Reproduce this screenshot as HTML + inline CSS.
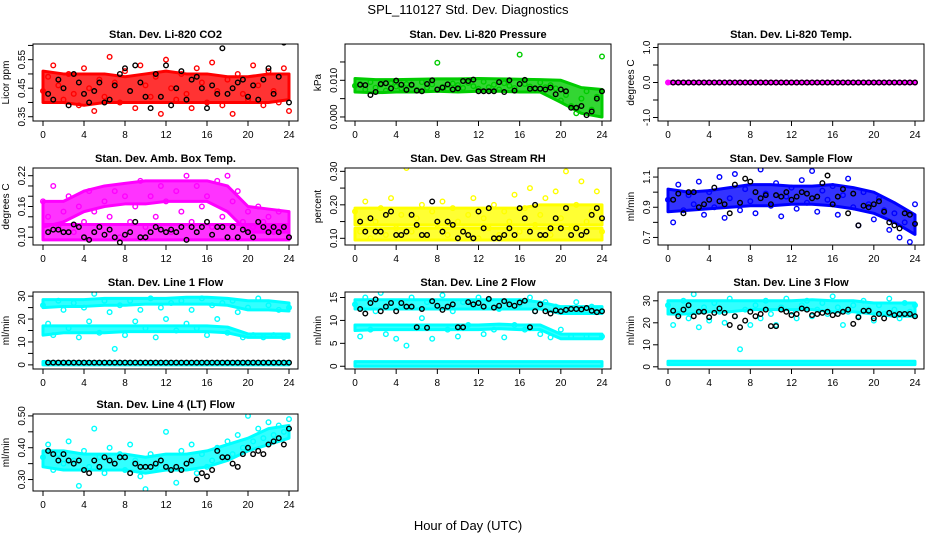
<!DOCTYPE html>
<html><head><meta charset="utf-8"><style>
html,body{margin:0;padding:0;background:#fff}
svg{display:block;font-family:"Liberation Sans",sans-serif}
</style></head><body>
<svg id="chart" width="936" height="540" viewBox="0 0 936 540">
<text x="468" y="14" text-anchor="middle" font-size="13">SPL_110127  Std. Dev. Diagnostics</text>
<text x="468" y="530" text-anchor="middle" font-size="13">Hour of Day (UTC)</text>
</svg>
<script>
// ---- data ----
const bandHours=[0,2,4,6,8,10,12,14,16,18,20,22,24];
const ptHours=[0,0.5,1,1.5,2,2.5,3,3.5,4,4.5,5,5.5,6,6.5,7,7.5,8,8.5,9,9.5,10,10.5,11,11.5,12,12.5,13,13.5,14,14.5,15,15.5,16,16.5,17,17.5,18,18.5,19,19.5,20,20.5,21,21.5,22,22.5,23,23.5,24];
const blkHours=[0.5,1,1.5,2,2.5,3,3.5,4,4.5,5,5.5,6,6.5,7,7.5,8,8.5,9,9.5,10,10.5,11,11.5,12,12.5,13,13.5,14,14.5,15,15.5,16,16.5,17,17.5,18,18.5,19,19.5,20,20.5,21,21.5,22,22.5,23,23.5,24];
const xTicks=[0,4,8,12,16,20,24];

const co2Lo=[.40,.40,.39,.40,.40,.40,.40,.40,.40,.40,.40,.40,.41];
const co2Hi=[.51,.50,.50,.50,.49,.50,.51,.50,.50,.49,.49,.50,.50];
const co2Pts=[.44,.49,.53,.46,.41,.50,.43,.39,.52,.45,.37,.48,.42,.56,.47,.40,.51,.44,.38,.53,.46,.42,.49,.36,.55,.45,.41,.50,.43,.38,.52,.47,.40,.54,.44,.39,.48,.36,.50,.43,.41,.53,.46,.39,.51,.44,.40,.52,.37];
const co2Blk=[.43,.41,.48,.45,.39,.50,.47,.43,.40,.44,.47,.40,.41,.46,.50,.52,.44,.53,.47,.42,.38,.50,.42,.53,.39,.45,.51,.41,.48,.49,.45,.38,.46,.43,.59,.43,.45,.47,.48,.42,.46,.41,.48,.52,.43,.49,.61,.40];

const presLo=[.0068,.0066,.0068,.0068,.0070,.0068,.0070,.0070,.0068,.0068,.0040,.0010,.0000];
const presHi=[.0105,.0102,.0102,.0103,.0104,.0104,.0105,.0104,.0103,.0102,.0100,.0080,.0075];
const presPts=[.0085,.009,.0075,.0095,.008,.0088,.0072,.0092,.0083,.0078,.009,.0086,.0074,.0095,.008,.0089,.0148,.0082,.0076,.0091,.0087,.0079,.0093,.0084,.0077,.0096,.0081,.0088,.0075,.0092,.0085,.0079,.0170,.0090,.0083,.0076,.0094,.0081,.0087,.0078,.0045,.0060,.0030,.0010,.0050,.0070,.0020,.0055,.0165];
const presBlk=[.0088,.0087,.0060,.0068,.0090,.0092,.0078,.0099,.0088,.0074,.0088,.0072,.0070,.0090,.0100,.0075,.0080,.0089,.0075,.0078,.0098,.0098,.0102,.0070,.0070,.0070,.0070,.0095,.0068,.0100,.0072,.0090,.0101,.0077,.0078,.0077,.0075,.0080,.0062,.0075,.0070,.0025,.0025,.0030,.0005,.0015,.0050,.0070];

const tempLo=[-0.03,-0.03,-0.03,-0.03,-0.03,-0.03,-0.03,-0.03,-0.03,-0.03,-0.03,-0.03,-0.03];
const tempHi=[0.03,0.03,0.03,0.03,0.03,0.03,0.03,0.03,0.03,0.03,0.03,0.03,0.03];
const tempPts=[0,0,0,0,0,0,0,0,0,0,0,0,0,0,0,0,0,0,0,0,0,0,0,0,0,0,0,0,0,0,0,0,0,0,0,0,0,0,0,0,0,0,0,0,0,0,0,0,0];
const tempBlk=[0,0,0,0,0,0,0,0,0,0,0,0,0,0,0,0,0,0,0,0,0,0,0,0,0,0,0,0,0,0,0,0,0,0,0,0,0,0,0,0,0,0,0,0,0,0,0,0];

const ambLo1=[.095,.095,.095,.095,.095,.095,.095,.095,.095,.095,.095,.095,.095];
const ambHi1=[.125,.125,.125,.125,.125,.125,.125,.125,.125,.125,.125,.125,.125];
const ambLo2=[.12,.13,.15,.16,.165,.165,.17,.17,.17,.15,.11,.11,.11];
const ambHi2=[.17,.17,.19,.20,.205,.21,.21,.21,.21,.20,.16,.155,.15];
const ambPts=[.17,.14,.20,.12,.15,.18,.11,.16,.13,.19,.15,.12,.17,.14,.19,.10,.18,.13,.16,.21,.12,.18,.14,.20,.17,.11,.19,.15,.22,.13,.20,.16,.18,.12,.21,.14,.22,.17,.19,.13,.15,.12,.16,.13,.14,.11,.15,.12,.10];
const ambBlk=[.11,.115,.115,.11,.11,.125,.12,.10,.095,.11,.12,.105,.115,.10,.09,.105,.11,.13,.10,.10,.11,.12,.115,.11,.115,.11,.12,.095,.12,.11,.12,.13,.105,.12,.12,.10,.12,.10,.115,.11,.10,.13,.12,.11,.12,.11,.12,.10];

const rhLo1=[.095,.095,.095,.095,.095,.095,.095,.095,.095,.095,.095,.095,.095];
const rhHi1=[.13,.13,.13,.13,.13,.13,.13,.13,.13,.13,.13,.13,.13];
const rhLo2=[.14,.14,.14,.14,.14,.14,.14,.14,.14,.14,.14,.14,.14];
const rhHi2=[.19,.19,.19,.19,.19,.19,.19,.19,.19,.20,.20,.20,.20];
const rhPts=[.18,.12,.21,.10,.15,.19,.11,.22,.13,.17,.31,.12,.16,.20,.10,.18,.14,.21,.11,.19,.15,.12,.17,.22,.10,.16,.13,.20,.11,.18,.15,.23,.12,.19,.25,.14,.17,.22,.11,.24,.16,.30,.13,.20,.27,.15,.18,.24,.12];
const rhBlk=[.15,.12,.16,.12,.12,.17,.18,.11,.11,.12,.17,.14,.11,.11,.21,.15,.12,.15,.14,.10,.12,.11,.10,.18,.13,.19,.10,.10,.11,.13,.11,.19,.16,.12,.20,.11,.11,.13,.16,.13,.19,.11,.13,.11,.12,.17,.19,.16];

const flowLo=[.87,.88,.89,.90,.91,.91,.92,.92,.91,.89,.86,.80,.72];
const flowHi=[1.02,1.00,1.01,1.03,1.05,1.05,1.04,1.04,1.05,1.03,1.00,.93,.85];
const flowPts=[.95,.80,1.05,.88,.98,.92,1.07,.85,1.00,.90,1.10,.83,.96,1.12,.88,1.02,.94,.86,1.15,.99,.91,1.06,.84,.97,1.03,.89,1.08,.93,1.14,.87,1.01,.95,1.04,.85,.98,1.09,.90,.78,1.00,.92,.82,.96,.88,.75,.86,.70,.80,.67,.92];
const flowBlk=[.95,.99,.86,1.00,1.00,.90,.92,.95,1.03,.94,.92,.86,1.05,.93,1.09,1.07,1.00,.96,.98,.92,.98,.97,1.00,.95,.97,1.00,.99,.96,.97,1.06,1.11,.92,.97,1.02,.86,.99,.78,.91,.90,.92,.94,.87,.80,.78,.76,.86,.85,.79];

const l1Lo1=[25,25.5,25.5,26,26,26.5,26.5,26.5,26.5,26,24,24,23.5];
const l1Hi1=[28.5,28.5,28.5,29,29,29,29,29.5,29.5,29,28,28,27];
const l1Lo2=[13,14,14,14,14.5,14.5,14.5,14.5,14.5,14,12,12,12];
const l1Hi2=[17,17,17,17,17,17,17,17,17,16.5,13.5,13.5,13.5];
const l1Lo3=[0,0,0,0,0,0,0,0,0,0,0,0,0];
const l1Hi3=[1.5,1.5,1.5,1.5,1.5,1.5,1.5,1.5,1.5,1.5,1.5,1.5,1.5];
const l1Pts=[26,18,13,28,24,16,27,12,25,19,31,14,28,23,7,26,13,28,19,24,16,29,12,25,20,27,15,28,18,24,16,29,13,26,20,27,14,28,23,12,25,13,29,12,26,13,24,12,25];
const l1Blk=[1,1,1,1,1,1,1,1,1,1,1,1,1,1,1,1,1,1,1,1,1,1,1,1,1,1,1,1,1,1,1,1,1,1,1,1,1,1,1,1,1,1,1,1,1,1,1,1];

const l2Lo1=[12.5,12.5,12.5,12.5,12.5,12.5,12.5,12.5,12.5,12.5,11.5,11.5,11.5];
const l2Hi1=[14.5,14.5,14.5,14.5,14.5,14.5,14.5,14.5,14.5,14,13,13,13];
const l2Lo2=[7.8,8,8,8,8,8,8,8.2,8,8,6,6,6];
const l2Hi2=[9,9,9,9,9,9,9,9.2,9,9,7,7,7];
const l2Lo3=[0,0,0,0,0,0,0,0,0,0,0,0,0];
const l2Hi3=[1,1,1,1,1,1,1,1,1,1,1,1,1];
const l2Pts=[13.5,6.5,15,8,12,16,7,14,6,13,4.5,15,8.5,10.5,14,6,13,15.5,8,12,6.5,14,9,13,15,7,14.5,8,12.5,6.3,14,9,13.5,8,15,12,7,14,6.3,13,8,12.5,6.5,14,12,6.5,13,12,6.5];
const l2Blk=[12.5,11.5,13.8,14.6,12,13,13.8,12,13.8,13,13,8.5,12.5,8.4,14.2,13.2,12.3,13,13.5,8.5,8.5,14,13.5,13.8,13,14.7,12.8,13.2,14.2,13.5,13.2,13.9,14.3,8.5,12,13.5,12,11.5,12.2,12,12.3,12.5,12.5,12.4,12.7,12.1,11.8,12];

const l3Lo1=[24,24,25,25,26,26,26,26,25,25,24,23,23];
const l3Hi1=[30,30,30,30,30,30,30,30.5,30,30,29,29,29];
const l3Lo2=[1,1,1,1,1,1,1,1,1,1,1,1,1];
const l3Hi2=[2.5,2.5,2.5,2.5,2.5,2.5,2.5,2.5,2.5,2.5,2.5,2.5,2.5];
const l3Pts=[28,19,24,30,22,33,18,27,21,29,25,20,31,23,8,26,19,28,22,30,24,19,27,31,25,22,28,30,23,26,29,24,32,27,19,25,28,23,30,26,21,28,24,31,26,22,29,25,28];
const l3Blk=[25.5,23,26,28,23,25,25,22.5,24.5,26.5,24.5,19,23,18,21,25,23,24,26,18.5,18.5,26,25,23.5,24,26.5,26,23.5,24,24.5,25,23.5,24,25,26,19.5,22.5,25.5,25.5,22,24,22,24.5,23.5,24,24,24,23];

const l4Lo=[.34,.33,.33,.33,.33,.32,.33,.33,.34,.36,.39,.41,.43];
const l4Hi=[.39,.39,.38,.38,.38,.37,.38,.38,.39,.41,.43,.46,.47];
const l4Pts=[.37,.41,.33,.38,.35,.42,.36,.28,.39,.34,.46,.37,.32,.40,.35,.38,.33,.41,.36,.31,.27,.38,.34,.36,.45,.33,.29,.39,.35,.41,.32,.38,.34,.36,.40,.37,.42,.38,.44,.40,.50,.42,.46,.43,.48,.44,.47,.45,.49];
const l4Blk=[.39,.38,.36,.38,.36,.35,.36,.33,.32,.36,.34,.37,.36,.35,.37,.37,.32,.35,.34,.34,.34,.35,.36,.34,.33,.34,.33,.35,.36,.30,.32,.31,.33,.39,.37,.37,.35,.34,.38,.40,.38,.39,.38,.41,.42,.43,.41,.46];

// ---- layout ----
const colX=[[33,298],[345,611],[658,924]];
const rowY=[44,168,292,414];
const boxH=77;
const svg=document.getElementById('chart');
const NS='http://www.w3.org/2000/svg';
function mk(tag,attrs,parent){const e=document.createElementNS(NS,tag);for(const k in attrs)e.setAttribute(k,attrs[k]);(parent||svg).appendChild(e);return e;}

const panels=[
 {name:'co2',title:'Stan. Dev. Li-820 CO2',ylab:'Licor ppm',r:0,c:0,dom:[0.335,0.605],ticks:[.35,.40,.45,.50,.55,.60],labels:['0.35','','0.45','','0.55',''],col:'#ff0000',bands:[[co2Lo,co2Hi]],pts:co2Pts,blk:co2Blk},
 {name:'pressure',title:'Stan. Dev. Li-820 Pressure',ylab:'kPa',r:0,c:1,dom:[-0.0011,0.0199],ticks:[0,.005,.010,.015],labels:['0.000','','0.010',''],col:'#00cc00',bands:[[presLo,presHi]],pts:presPts,blk:presBlk},
 {name:'li820-temp',title:'Stan. Dev. Li-820 Temp.',ylab:'degrees C',r:0,c:2,dom:[-1.1,1.1],ticks:[-1,-0.5,0,0.5,1],labels:['-1.0','','0.0','','1.0'],col:'#ff00ff',bands:[[tempLo,tempHi]],pts:tempPts,blk:tempBlk},
 {name:'amb-box-temp',title:'Stan. Dev. Amb. Box Temp.',ylab:'degrees C',r:1,c:0,dom:[0.085,0.235],ticks:[.10,.12,.14,.16,.18,.20,.22],labels:['0.10','','','0.16','','','0.22'],col:'#ff00ff',bands:[[ambLo1,ambHi1],[ambLo2,ambHi2]],pts:ambPts,blk:ambBlk},
 {name:'gas-stream-rh',title:'Stan. Dev. Gas Stream RH',ylab:'percent',r:1,c:1,dom:[0.08,0.31],ticks:[.10,.15,.20,.25,.30],labels:['0.10','','0.20','','0.30'],col:'#ffff00',bands:[[rhLo1,rhHi1],[rhLo2,rhHi2]],pts:rhPts,blk:rhBlk},
 {name:'sample-flow',title:'Stan. Dev. Sample Flow',ylab:'ml/min',r:1,c:2,dom:[0.65,1.16],ticks:[.7,.8,.9,1.0,1.1],labels:['0.7','','0.9','','1.1'],col:'#0000ff',bands:[[flowLo,flowHi]],pts:flowPts,blk:flowBlk},
 {name:'line1-flow',title:'Stan. Dev. Line 1 Flow',ylab:'ml/min',r:2,c:0,dom:[-1.8,31.8],ticks:[0,5,10,15,20,25,30],labels:['0','','10','','20','','30'],col:'#00ffff',bands:[[l1Lo1,l1Hi1],[l1Lo2,l1Hi2],[l1Lo3,l1Hi3]],pts:l1Pts,blk:l1Blk},
 {name:'line2-flow',title:'Stan. Dev. Line 2 Flow',ylab:'ml/min',r:2,c:1,dom:[-0.6,16.2],ticks:[0,5,10,15],labels:['0','5','10','15'],col:'#00ffff',bands:[[l2Lo1,l2Hi1],[l2Lo2,l2Hi2],[l2Lo3,l2Hi3]],pts:l2Pts,blk:l2Blk},
 {name:'line3-flow',title:'Stan. Dev. Line 3 Flow',ylab:'ml/min',r:2,c:2,dom:[-1,34],ticks:[0,10,20,30],labels:['0','10','20','30'],col:'#00ffff',bands:[[l3Lo1,l3Hi1],[l3Lo2,l3Hi2]],pts:l3Pts,blk:l3Blk},
 {name:'line4-flow',title:'Stan. Dev. Line 4 (LT) Flow',ylab:'ml/min',r:3,c:0,dom:[0.264,0.506],ticks:[.30,.35,.40,.45,.50],labels:['0.30','','0.40','','0.50'],col:'#00ffff',bands:[[l4Lo,l4Hi]],pts:l4Pts,blk:l4Blk}
];

panels.forEach(p=>{
  const L=colX[p.c][0],R=colX[p.c][1],T=rowY[p.r],B=T+boxH;
  const xs=h=>L+10+h*((R-L-19)/24);
  const ys=v=>B-(v-p.dom[0])/(p.dom[1]-p.dom[0])*boxH;
  const g=mk('g',{});
  
  
  const t=mk('text',{x:(L+R)/2,y:T-6,'text-anchor':'middle','font-size':'11','font-weight':'bold'},g);
  t.textContent=p.title;
  
  
  const yl=mk('text',{transform:`translate(${L-24},${(T+B)/2}) rotate(-90)`,'text-anchor':'middle','font-size':'10'},g);
  yl.textContent=p.ylab;
  
  
  const clip=mk('clipPath',{id:'clip-'+p.name},g);
  mk('rect',{x:L,y:T,width:R-L,height:boxH},clip);
  const marks=mk('g',{'clip-path':`url(#clip-${p.name})`},g);
  p.bands.forEach((b,bi)=>{
    let d='';
    bandHours.forEach((h,i)=>{d+=(i?'L':'M')+xs(h)+','+ys(b[1][i]);});
    for(let i=bandHours.length-1;i>=0;i--)d+='L'+xs(bandHours[i])+','+ys(b[0][i]);
    const poly=mk('path',{d:d+'Z',fill:p.col,'fill-opacity':'0.8',stroke:p.col,'stroke-width':'3','stroke-linejoin':'round'},marks);
    
    
  });
  p.pts.forEach((v,i)=>{
    const c=mk('circle',{cx:xs(ptHours[i]),cy:ys(v),r:2.3,fill:'none',stroke:p.col,'stroke-width':'1.4'},marks);
    
    
  });
  p.blk.forEach((v,i)=>{
    const c=mk('circle',{cx:xs(blkHours[i]),cy:ys(v),r:2.3,fill:'none',stroke:'#000','stroke-width':'1.4'},marks);
    
    
  });
  mk('rect',{x:L,y:T,width:R-L,height:boxH,fill:'none',stroke:'#000','stroke-width':'1'},g);
  xTicks.forEach(h=>{
    mk('line',{x1:xs(h),x2:xs(h),y1:B,y2:B+5,stroke:'#000'},g);
    const lt=mk('text',{x:xs(h),y:B+17,'text-anchor':'middle','font-size':'10'},g);
    lt.textContent=h;
    
    
  });
  p.ticks.forEach((v,i)=>{
    const y=ys(v); if(y<T-1||y>B+1)return;
    mk('line',{x1:L-5,x2:L,y1:y,y2:y,stroke:'#000'},g);
    if(p.labels[i]){
      const lt=mk('text',{transform:`translate(${L-8},${y}) rotate(-90)`,'text-anchor':'middle','font-size':'10'},g);
      lt.textContent=p.labels[i];
      
      
    }
  });
});
</script>
</body></html>
